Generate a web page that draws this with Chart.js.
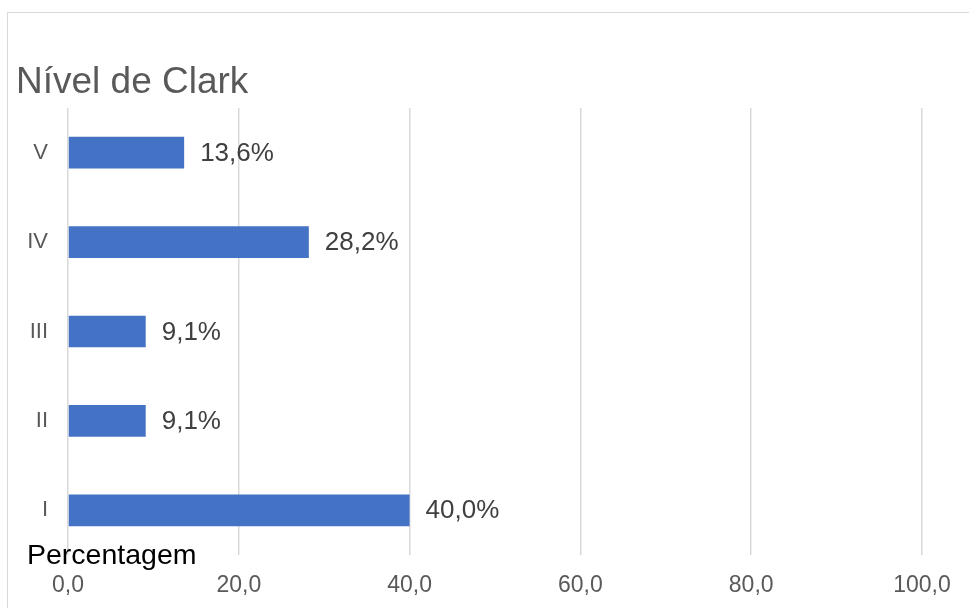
<!DOCTYPE html>
<html>
<head>
<meta charset="utf-8">
<script src="https://cdn.jsdelivr.net/npm/chart.js@4"></script>
<style>
html,body{margin:0;padding:0;background:#fff;}
#wrap{width:969px;height:608px;position:relative;}
</style>
</head>
<body>
<div id="wrap"><canvas id="c" width="969" height="608"></canvas></div>
<script>
const categories = ['V', 'IV', 'III', 'II', 'I'];
const percentValues = [13.6, 28.2, 9.1, 9.1, 40.0];
const xTickValues = [0, 20, 40, 60, 80, 100];
const chartTitle = 'Nível de Clark';
const axisTitle = 'Percentagem';

const FONT = '"Liberation Sans", Arial, sans-serif';

const fmt = v => v.toFixed(1).replace('.', ',');

const decorPlugin = {
  id: 'decor',
  beforeDraw(chart) {
    const ctx = chart.ctx;
    ctx.save();
    ctx.fillStyle = '#fff';
    ctx.fillRect(0, 0, chart.width, chart.height);
    ctx.strokeStyle = '#d9d9d9';
    ctx.lineWidth = 1;
    ctx.strokeRect(7.5, 12.5, chart.width + 10, chart.height + 10);
    ctx.restore();
  },
  afterDraw(chart) {
    const ctx = chart.ctx;
    ctx.save();
    ctx.fillStyle = '#595959';
    ctx.font = '37px ' + FONT;
    ctx.textBaseline = 'alphabetic';
    ctx.textAlign = 'left';
    ctx.fillText(chartTitle, 16, 93);
    ctx.fillStyle = '#000000';
    ctx.font = '28.5px ' + FONT;
    ctx.fillText(axisTitle, 27, 564);
    ctx.restore();
  }
};

const labelPlugin = {
  id: 'barLabels',
  afterDatasetsDraw(chart) {
    const ctx = chart.ctx;
    const meta = chart.getDatasetMeta(0);
    ctx.save();
    ctx.fillStyle = '#404040';
    ctx.font = '26px ' + FONT;
    ctx.textAlign = 'left';
    ctx.textBaseline = 'middle';
    meta.data.forEach((el, i) => {
      ctx.fillText(fmt(percentValues[i]) + '%', el.x + 16, el.y + 1);
    });
    ctx.restore();
  }
};

new Chart(document.getElementById('c'), {
  type: 'bar',
  data: {
    labels: categories,
    datasets: [{
      data: percentValues,
      backgroundColor: '#4472C4',
      borderWidth: 0,
      categoryPercentage: 1.0,
      barPercentage: 0.355
    }]
  },
  options: {
    indexAxis: 'y',
    responsive: false,
    animation: false,
    layout: { padding: { left: 0, right: 47, top: 108, bottom: 0 } },
    plugins: {
      legend: { display: false },
      title: { display: false },
      tooltip: { enabled: false }
    },
    scales: {
      x: {
        min: 0, max: 100,
        afterBuildTicks(scale) { scale.ticks = xTickValues.map(v => ({ value: v })); },
        afterFit(scale) { scale.height = 53; },
        grid: { color: '#d9d9d9', lineWidth: 1.5, drawTicks: false },
        border: { display: false },
        ticks: {
          color: '#595959',
          font: { family: FONT, size: 23 },
          padding: 17,
          maxRotation: 0,
          callback: v => fmt(v)
        }
      },
      y: {
        afterFit(scale) { scale.width = 68; },
        grid: { display: false, drawTicks: false },
        border: { display: false },
        ticks: {
          color: '#595959',
          font: { family: FONT, size: 22 },
          padding: 20
        }
      }
    }
  },
  plugins: [decorPlugin, labelPlugin]
});
</script>
</body>
</html>
